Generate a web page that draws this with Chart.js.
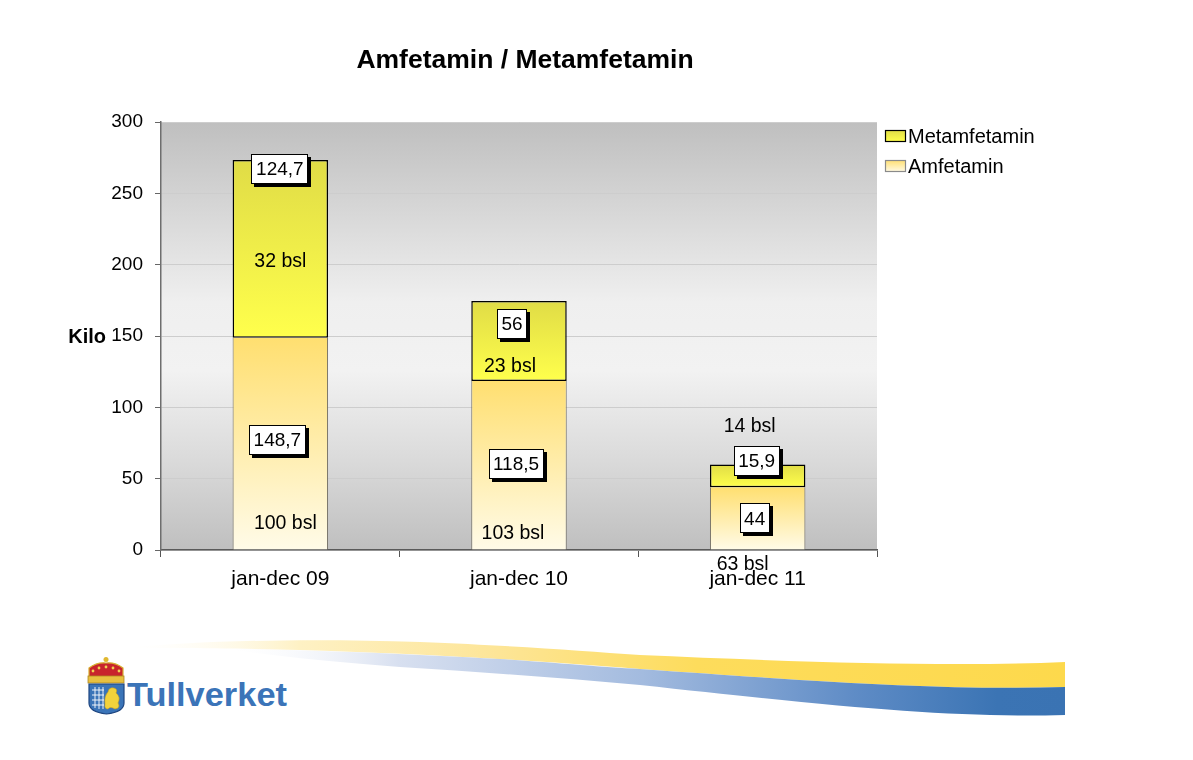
<!DOCTYPE html>
<html><head><meta charset="utf-8">
<script src="https://cdn.jsdelivr.net/npm/chart.js@4"></script>
<style>
html,body{margin:0;padding:0;background:#fff;}
#wrap{position:relative;width:1193px;height:760px;overflow:hidden;}
#deco{position:absolute;left:0;top:0;}
#c{position:absolute;left:0;top:0;}
</style></head><body>
<div id="wrap">
<svg id="deco" width="1193" height="760" xmlns="http://www.w3.org/2000/svg">
  <defs>
    <linearGradient id="gy" gradientUnits="userSpaceOnUse" x1="120" y1="0" x2="1065" y2="0">
      <stop offset="0" stop-color="#ffffff" stop-opacity="0"/>
      <stop offset="0.19" stop-color="#fef1c4"/>
      <stop offset="0.40" stop-color="#fde597"/>
      <stop offset="0.61" stop-color="#fddc5c"/>
      <stop offset="1" stop-color="#fdd94c"/>
    </linearGradient>
    <linearGradient id="gb" gradientUnits="userSpaceOnUse" x1="220" y1="0" x2="1065" y2="0">
      <stop offset="0" stop-color="#ffffff" stop-opacity="0"/>
      <stop offset="0.21" stop-color="#d8e0f0"/>
      <stop offset="0.5" stop-color="#a3bbdf"/>
      <stop offset="0.75" stop-color="#5f8cc6"/>
      <stop offset="0.92" stop-color="#3b74b4"/>
      <stop offset="1" stop-color="#3a73b3"/>
    </linearGradient>
  </defs>
  <path d="M120,648 C200,641 300,638 420,642 C520,646 580,651 640,655 C800,662 950,667 1065,662 L1065,687 C950,690 850,684 640,669 C500,658 400,653 300,650 C220,648 160,648 120,648 Z" fill="url(#gy)"/>
  <path d="M220,648 C300,650 400,653 500,659 C560,663 600,667 640,669 C850,684 950,690 1065,687 L1065,715 C950,718 850,708 640,685 C560,678 480,672 400,667 C320,661 260,654 220,648 Z" fill="url(#gb)"/>
  <g>
    <circle cx="106" cy="659.5" r="2.5" fill="#e0b830"/>
    <path d="M89,678 L89,668 Q97,662 106,663 Q115,662 123,668 L123,678 Z" fill="#c8242c" stroke="#d8b030" stroke-width="1.2"/>
    <g fill="#f0d050">
      <circle cx="93" cy="671" r="1.4"/><circle cx="99" cy="668" r="1.4"/><circle cx="106" cy="667" r="1.4"/>
      <circle cx="113" cy="668" r="1.4"/><circle cx="119" cy="671" r="1.4"/>
    </g>
    <rect x="88" y="676" width="36" height="7" fill="#e8c040" stroke="#b08820" stroke-width="0.8"/>
    <path d="M89,684 L124,684 L124,703 Q124,712 106.5,714 Q89,712 89,703 Z" fill="#3a74b8" stroke="#1f4680" stroke-width="1.2"/>
    <g stroke="#ffffff" stroke-width="0.9">
      <line x1="92" y1="690" x2="104" y2="690"/><line x1="92" y1="695" x2="104" y2="695"/>
      <line x1="92" y1="700" x2="104" y2="700"/><line x1="92" y1="705" x2="104" y2="705"/>
      <line x1="95" y1="687" x2="95" y2="708"/><line x1="99" y1="687" x2="99" y2="709"/>
      <line x1="103" y1="687" x2="103" y2="709"/>
    </g>
    <path d="M105,704 Q104,696 108,692 Q109,687 114,688 Q118,689 116,693 Q121,697 118,703 Q121,708 115,709 Q110,706 108,709 Q104,709 105,704 Z" fill="#f2d23c" stroke="#c8a020" stroke-width="0.6"/>
  </g>
  <text x="127" y="706" font-family="Liberation Sans, Arial, sans-serif" font-weight="bold" font-size="33" fill="#3b74b8" textLength="160" lengthAdjust="spacingAndGlyphs">Tullverket</text>
</svg>
<canvas id="c" width="1193" height="760"></canvas>
</div>
<script>
// ---- data ----
const categories = ['jan-dec 09', 'jan-dec 10', 'jan-dec 11'];
const amfetamin = [148.7, 118.5, 44];
const metamfetamin = [124.7, 56, 15.9];
const amfBsl = [100, 103, 63];
const metBsl = [32, 23, 14];
const yMin = 0, yMax = 300, yStep = 50;
const seriesNames = ['Amfetamin', 'Metamfetamin'];
const chartTitle = 'Amfetamin / Metamfetamin';
const yTitle = 'Kilo';

// ---- layout tweaks (label placement, px) ----
const FONT = '"Liberation Sans", Arial, Helvetica, sans-serif';
const metLabelDx = [-0.5, -7, -1], metLabelDy = [9, 23, -3.5];
const amfLabelDx = [-3, -3, -3], amfLabelDy = [-4, -1.5, 0];
const metBslDx = [0, -9, -8], metBslDy = [102, 66, -37.5];
const amfBslDx = [5, -6, -15], amfBslDy = [-26, -16, 15];

const fmt = v => String(v).replace('.', ',');

const metStops = ['#e0dc46', '#ffff4c'];
const amfStops = ['#ffdf70', '#fffbe8'];

function segGradient(ctx, stops, dsIndex) {
  const chart = ctx.chart;
  const area = chart.chartArea;
  if (!area || ctx.type !== 'data' || !chart.scales.y) return stops[1];
  const ys = chart.scales.y;
  const i = ctx.dataIndex;
  const base = dsIndex === 0 ? 0 : amfetamin[i];
  const top = base + (dsIndex === 0 ? amfetamin[i] : metamfetamin[i]);
  const y0 = ys.getPixelForValue(top), y1 = ys.getPixelForValue(base);
  if (!isFinite(y0) || !isFinite(y1)) return stops[1];
  const g = chart.ctx.createLinearGradient(0, y0, 0, y1);
  g.addColorStop(0, stops[0]);
  g.addColorStop(1, stops[1]);
  return g;
}

const bgPlugin = {
  id: 'bg',
  beforeDraw(chart) {
    const { ctx, chartArea: a } = chart;
    const g = ctx.createLinearGradient(0, a.top, 0, a.bottom);
    g.addColorStop(0, '#bfbfbf');
    g.addColorStop(0.2, '#d6d6d6');
    g.addColorStop(0.42, '#efefef');
    g.addColorStop(0.58, '#f2f2f2');
    g.addColorStop(0.8, '#d9d9d9');
    g.addColorStop(1, '#bfbfbf');
    ctx.save();
    ctx.fillStyle = g;
    ctx.fillRect(a.left, a.top, a.right - a.left, a.bottom - a.top);
    ctx.restore();
  }
};

function box(ctx, text, x, y) {
  ctx.font = '19px ' + FONT;
  const tw = ctx.measureText(text).width;
  const w = Math.round(tw + 9), h = 30;
  const l = Math.round(x - w / 2), t = Math.round(y - h / 2);
  ctx.fillStyle = '#000';
  ctx.fillRect(l + 3, t + 3, w, h);
  ctx.fillStyle = '#fff';
  ctx.fillRect(l, t, w, h);
  ctx.strokeStyle = '#000';
  ctx.lineWidth = 1;
  ctx.strokeRect(l + 0.5, t + 0.5, w - 1, h - 1);
  ctx.fillStyle = '#000';
  ctx.textAlign = 'center';
  ctx.textBaseline = 'middle';
  ctx.fillText(text, x, y + 1);
}

const labelPlugin = {
  id: 'labels',
  afterDatasetsDraw(chart) {
    const ctx = chart.ctx;
    const amfMeta = chart.getDatasetMeta(0).data;
    const metMeta = chart.getDatasetMeta(1).data;
    ctx.save();
    ctx.font = '19.5px ' + FONT;
    ctx.fillStyle = '#000';
    ctx.textAlign = 'center';
    ctx.textBaseline = 'middle';
    categories.forEach((c, i) => {
      const m = metMeta[i], a = amfMeta[i];
      ctx.fillText(metBsl[i] + ' bsl', m.x + metBslDx[i], m.y + metBslDy[i]);
      ctx.fillText(amfBsl[i] + ' bsl', a.x + amfBslDx[i], a.base + amfBslDy[i]);
    });
    categories.forEach((c, i) => {
      const m = metMeta[i], a = amfMeta[i];
      box(ctx, fmt(metamfetamin[i]), m.x + metLabelDx[i], m.y + metLabelDy[i]);
      box(ctx, fmt(amfetamin[i]), a.x + amfLabelDx[i], (a.y + a.base) / 2 + amfLabelDy[i]);
    });
    ctx.restore();
  },
  afterDraw(chart) {
    const ctx = chart.ctx;
    const a = chart.chartArea;
    ctx.save();
    ctx.fillStyle = '#000';
    ctx.font = 'bold 26.5px ' + FONT;
    ctx.textAlign = 'center';
    ctx.textBaseline = 'middle';
    ctx.fillText(chartTitle, 525, 61);
    ctx.font = 'bold 20px ' + FONT;
    ctx.textAlign = 'right';
    const ys = chart.scales.y;
    ctx.fillText(yTitle, 106, ys.getPixelForValue((yMin + yMax) / 2) + 1);
    const lx = a.right + 8;
    const items = [
      { name: seriesNames[1], stops: metStops, border: '#000', y: 136 },
      { name: seriesNames[0], stops: amfStops, border: '#8a8a8a', y: 166 }
    ];
    items.forEach(it => {
      const g = ctx.createLinearGradient(0, it.y - 6, 0, it.y + 6);
      g.addColorStop(0, it.stops[0]);
      g.addColorStop(1, it.stops[1]);
      ctx.fillStyle = g;
      ctx.fillRect(lx, it.y - 6, 21, 12);
      ctx.strokeStyle = it.border;
      ctx.lineWidth = 1.2;
      ctx.strokeRect(lx + 0.5, it.y - 5.5, 20, 11);
      ctx.fillStyle = '#000';
      ctx.font = '20px ' + FONT;
      ctx.textAlign = 'left';
      ctx.textBaseline = 'middle';
      ctx.fillText(it.name, lx + 23, it.y + 1);
    });
    ctx.restore();
  }
};

new Chart(document.getElementById('c'), {
  type: 'bar',
  data: {
    labels: categories,
    datasets: [
      {
        label: seriesNames[0],
        data: amfetamin,
        backgroundColor: ctx => segGradient(ctx, amfStops, 0),
        borderColor: '#6e6a60',
        borderWidth: { left: 1, right: 1, top: 0, bottom: 0 },
        borderSkipped: false,
        barPercentage: 0.4,
        categoryPercentage: 1
      },
      {
        label: seriesNames[1],
        data: metamfetamin,
        backgroundColor: ctx => segGradient(ctx, metStops, 1),
        borderColor: '#000',
        borderWidth: 1.5,
        borderSkipped: false,
        barPercentage: 0.4,
        categoryPercentage: 1
      }
    ]
  },
  options: {
    responsive: false,
    animation: false,
    devicePixelRatio: 1,
    layout: { padding: { left: 0, top: 122, right: 316, bottom: 165 } },
    plugins: {
      legend: { display: false },
      title: { display: false },
      tooltip: { enabled: false }
    },
    scales: {
      x: {
        stacked: true,
        grid: { drawOnChartArea: false, tickColor: '#555', tickLength: 7, offset: true },
        border: { color: '#5a5a5a', width: 1.5 },
        ticks: { color: '#000', font: { size: 21, family: FONT }, padding: 10, maxRotation: 0 },
        afterFit: s => { s.height = 45; }
      },
      y: {
        stacked: true,
        min: yMin, max: yMax,
        ticks: { stepSize: yStep, color: '#000', font: { size: 19, family: FONT }, padding: 12 },
        grid: { color: '#cdcdcd', tickColor: '#666', tickLength: 6 },
        border: { color: '#6e6e6e', width: 1.5 },
        afterFit: s => { s.width = 161; }
      }
    }
  },
  plugins: [bgPlugin, labelPlugin]
});
</script>
</body></html>
